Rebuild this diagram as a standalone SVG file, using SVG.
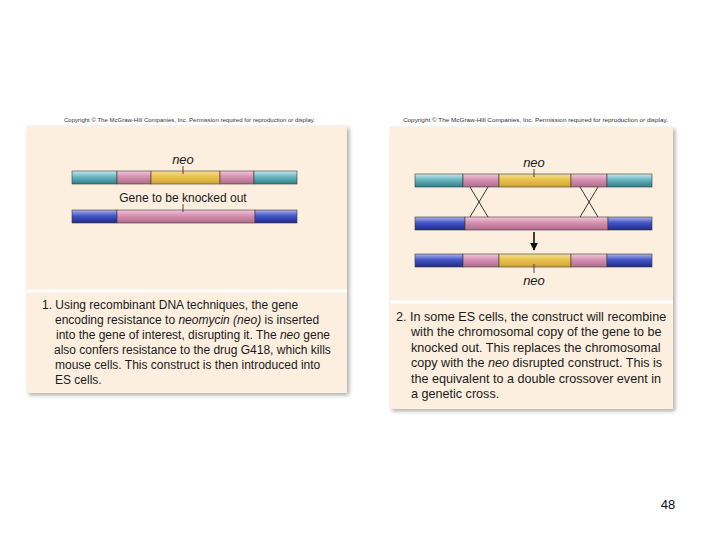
<svg xmlns="http://www.w3.org/2000/svg" width="720" height="540" viewBox="0 0 720 540">
<defs>
<linearGradient id="gTeal" x1="0" y1="0" x2="0" y2="1"><stop offset="0" stop-color="#c4eaf0"/><stop offset="0.45" stop-color="#6ab4bf"/><stop offset="1" stop-color="#2b7f8a"/></linearGradient>
<linearGradient id="gPink" x1="0" y1="0" x2="0" y2="1"><stop offset="0" stop-color="#f2c6da"/><stop offset="0.45" stop-color="#d590b0"/><stop offset="1" stop-color="#b06a8c"/></linearGradient>
<linearGradient id="gYel" x1="0" y1="0" x2="0" y2="1"><stop offset="0" stop-color="#f6df90"/><stop offset="0.45" stop-color="#e8c250"/><stop offset="1" stop-color="#d2a330"/></linearGradient>
<linearGradient id="gBlue" x1="0" y1="0" x2="0" y2="1"><stop offset="0" stop-color="#aab2ee"/><stop offset="0.45" stop-color="#4456c4"/><stop offset="1" stop-color="#1e2a8c"/></linearGradient>
<filter id="sh" x="-5%" y="-5%" width="112%" height="112%"><feGaussianBlur in="SourceAlpha" stdDeviation="2"/><feOffset dx="2" dy="2"/><feComponentTransfer><feFuncA type="linear" slope="0.35"/></feComponentTransfer><feMerge><feMergeNode/><feMergeNode in="SourceGraphic"/></feMerge></filter>
<marker id="ah" viewBox="0 0 10 10" refX="9" refY="5" markerWidth="5" markerHeight="5" orient="auto"><path d="M0,0 L10,5 L0,10 z" fill="#111"/></marker>
</defs>
<style>
.panel{fill:#fcefdf;filter:url(#sh)}
.div{stroke:#ffffff;stroke-width:3}
.seg{stroke:#3a3a3a;stroke-width:0.6}
.t{font-family:"Liberation Sans",Arial,sans-serif;font-size:12px;fill:#1a1a1a}
.t2{font-family:"Liberation Sans",Arial,sans-serif;font-size:12.6px;fill:#1a1a1a}
.lab{font-family:"Liberation Sans",Arial,sans-serif;font-size:12px;fill:#1a1a1a}
.neo{font-family:"Liberation Sans",Arial,sans-serif;font-size:13px;font-style:italic;fill:#1a1a1a}
.cp{font-family:"Liberation Sans",Arial,sans-serif;font-size:6px;fill:#333}
.tick{stroke:#222;stroke-width:0.8}
.x{stroke:#222;stroke-width:0.9}
</style>
<rect width="720" height="540" fill="#ffffff"/>

<g id="panel1">
<text class="cp" x="64" y="122" textLength="251" lengthAdjust="spacingAndGlyphs">Copyright © The McGraw-Hill Companies, Inc. Permission required for reproduction or display.</text>
<rect class="panel" x="27" y="126" width="320" height="267"/>
<line class="div" x1="27" y1="291" x2="347" y2="291"/>
</g>
<g id="construct1">
<rect class="seg" x="72" y="171" width="45" height="13" fill="url(#gTeal)"/>
<rect class="seg" x="117" y="171" width="34" height="13" fill="url(#gPink)"/>
<rect class="seg" x="151" y="171" width="69" height="13" fill="url(#gYel)"/>
<rect class="seg" x="220" y="171" width="34" height="13" fill="url(#gPink)"/>
<rect class="seg" x="254" y="171" width="43" height="13" fill="url(#gTeal)"/>
<text class="neo" x="183" y="164" text-anchor="middle">neo</text>
<line class="tick" x1="183" y1="166" x2="183" y2="174"/>
</g>
<g id="gene1">
<rect class="seg" x="72" y="210" width="45" height="13" fill="url(#gBlue)"/>
<rect class="seg" x="117" y="210" width="138" height="13" fill="url(#gPink)"/>
<rect class="seg" x="255" y="210" width="42" height="13" fill="url(#gBlue)"/>
<text class="lab" x="183" y="202" text-anchor="middle">Gene to be knocked out</text>
<line class="tick" x1="183" y1="204" x2="183" y2="212"/>
</g>
<g id="text1">
<text class="t" x="42" y="309">1. Using recombinant DNA techniques, the gene</text>
<text class="t" x="55" y="324">encoding resistance to <tspan font-style="italic">neomycin (neo)</tspan> is inserted</text>
<text class="t" x="56" y="339">into the gene of interest, disrupting it. The <tspan font-style="italic">neo</tspan> gene</text>
<text class="t" x="54" y="354">also confers resistance to the drug G418, which kills</text>
<text class="t" x="55" y="369">mouse cells. This construct is then introduced into</text>
<text class="t" x="55" y="384">ES cells.</text>
</g>

<g id="panel2">
<text class="cp" x="403" y="122" textLength="265" lengthAdjust="spacingAndGlyphs">Copyright © The McGraw-Hill Companies, Inc. Permission required for reproduction or display.</text>
<rect class="panel" x="390" y="127" width="283" height="282"/>
<line class="div" x1="390" y1="302" x2="673" y2="302"/>
</g>
<g id="construct2">
<rect class="seg" x="415" y="174" width="48" height="13" fill="url(#gTeal)"/>
<rect class="seg" x="463" y="174" width="36" height="13" fill="url(#gPink)"/>
<rect class="seg" x="499" y="174" width="72" height="13" fill="url(#gYel)"/>
<rect class="seg" x="571" y="174" width="36" height="13" fill="url(#gPink)"/>
<rect class="seg" x="607" y="174" width="45" height="13" fill="url(#gTeal)"/>
<text class="neo" x="534" y="167" text-anchor="middle">neo</text>
<line class="tick" x1="534" y1="169" x2="534" y2="177"/>
</g>
<g id="chromosome2">
<rect class="seg" x="415" y="217" width="50" height="13" fill="url(#gBlue)"/>
<rect class="seg" x="465" y="217" width="143" height="13" fill="url(#gPink)"/>
<rect class="seg" x="608" y="217" width="44" height="13" fill="url(#gBlue)"/>
</g>
<g id="result2">
<rect class="seg" x="415" y="254" width="48" height="13" fill="url(#gBlue)"/>
<rect class="seg" x="463" y="254" width="36" height="13" fill="url(#gPink)"/>
<rect class="seg" x="499" y="254" width="72" height="13" fill="url(#gYel)"/>
<rect class="seg" x="571" y="254" width="36" height="13" fill="url(#gPink)"/>
<rect class="seg" x="607" y="254" width="45" height="13" fill="url(#gBlue)"/>
<line class="tick" x1="534" y1="264" x2="534" y2="273"/>
<text class="neo" x="534" y="285" text-anchor="middle">neo</text>
</g>
<g id="connectors">
<line class="x" x1="470" y1="187" x2="488" y2="217"/>
<line class="x" x1="488" y1="187" x2="470" y2="217"/>
<line class="x" x1="580" y1="187" x2="598" y2="217"/>
<line class="x" x1="598" y1="187" x2="580" y2="217"/>
<line x1="534" y1="232" x2="534" y2="250" stroke="#111" stroke-width="1.6" marker-end="url(#ah)"/>
</g>
<g id="text2">
<text class="t2" x="396" y="321">2. In some ES cells, the construct will recombine</text>
<text class="t2" x="411" y="336">with the chromosomal copy of the gene to be</text>
<text class="t2" x="411" y="352">knocked out. This replaces the chromosomal</text>
<text class="t2" x="411" y="367">copy with the <tspan font-style="italic">neo</tspan> disrupted construct. This is</text>
<text class="t2" x="411" y="383">the equivalent to a double crossover event in</text>
<text class="t2" x="411" y="398">a genetic cross.</text>
</g>
<text x="668" y="509" text-anchor="middle" font-family="Liberation Sans, Arial, sans-serif" font-size="13" fill="#111">48</text>
</svg>
